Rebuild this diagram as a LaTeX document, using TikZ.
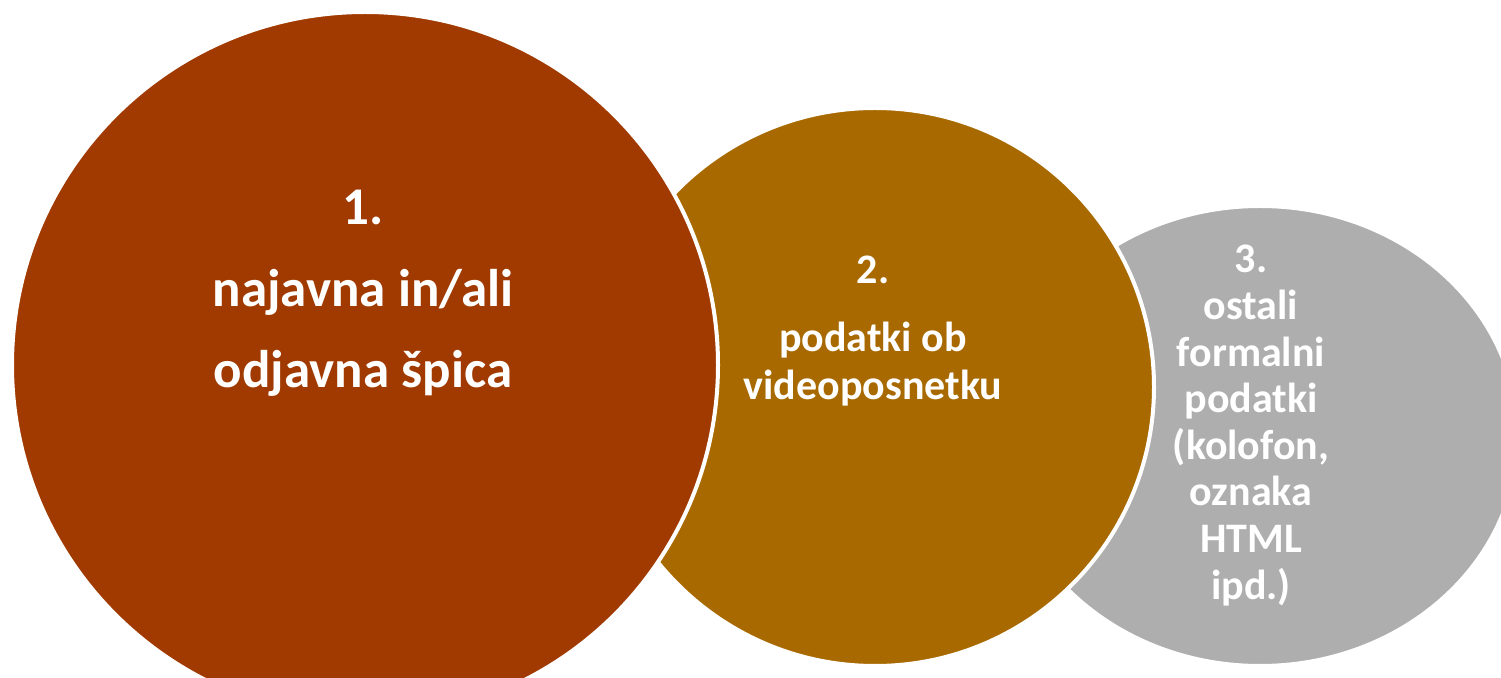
\documentclass[tikz,border=0pt]{standalone}
\usepackage{fontspec}
\setmainfont{Carlito}
\usetikzlibrary{shapes.geometric}
\definecolor{rjava}{HTML}{A03A00}
\definecolor{oker}{HTML}{A86A00}
\definecolor{siva}{HTML}{AEAEAE}

\begin{document}
\begin{tikzpicture}[x=0.5pt, y=-0.5pt,
		krog/.style={draw=white, line width=2pt, inner sep=0pt},
		napis/.style={text=white, align=center, inner sep=0pt, anchor=north}]
		\useasboundingbox (0,0) rectangle (1501,678);
		\clip (0,0) rectangle (1501,678);
		% krogi, od zadnjega do prvega
		\node[krog, ellipse, fill=siva, minimum width=258pt, minimum height=230pt] (k3) at (1260,436) {};
		\node[krog, circle, fill=oker, minimum size=279pt] (k2) at (875,387) {};
		\node[krog, circle, fill=rjava, minimum size=353pt] (k1) at (365,365) {};
		% besedila
		\node[napis, font=\bfseries\fontsize{26.5}{40.7}\selectfont] (t1) at (363,190) {1.\\najavna in/ali\\odjavna špica};
		\node[napis, font=\bfseries\fontsize{21}{24}\selectfont] (t2) at (873,256) {2.\\[10pt]podatki ob\\videoposnetku};
		\node[napis, font=\bfseries\fontsize{21}{23.3}\selectfont] (t3) at (1251,245) {3.\\ostali\\formalni\\podatki\\(kolofon,\\oznaka\\HTML\\ipd.)};
		\end{tikzpicture}
\end{document}
